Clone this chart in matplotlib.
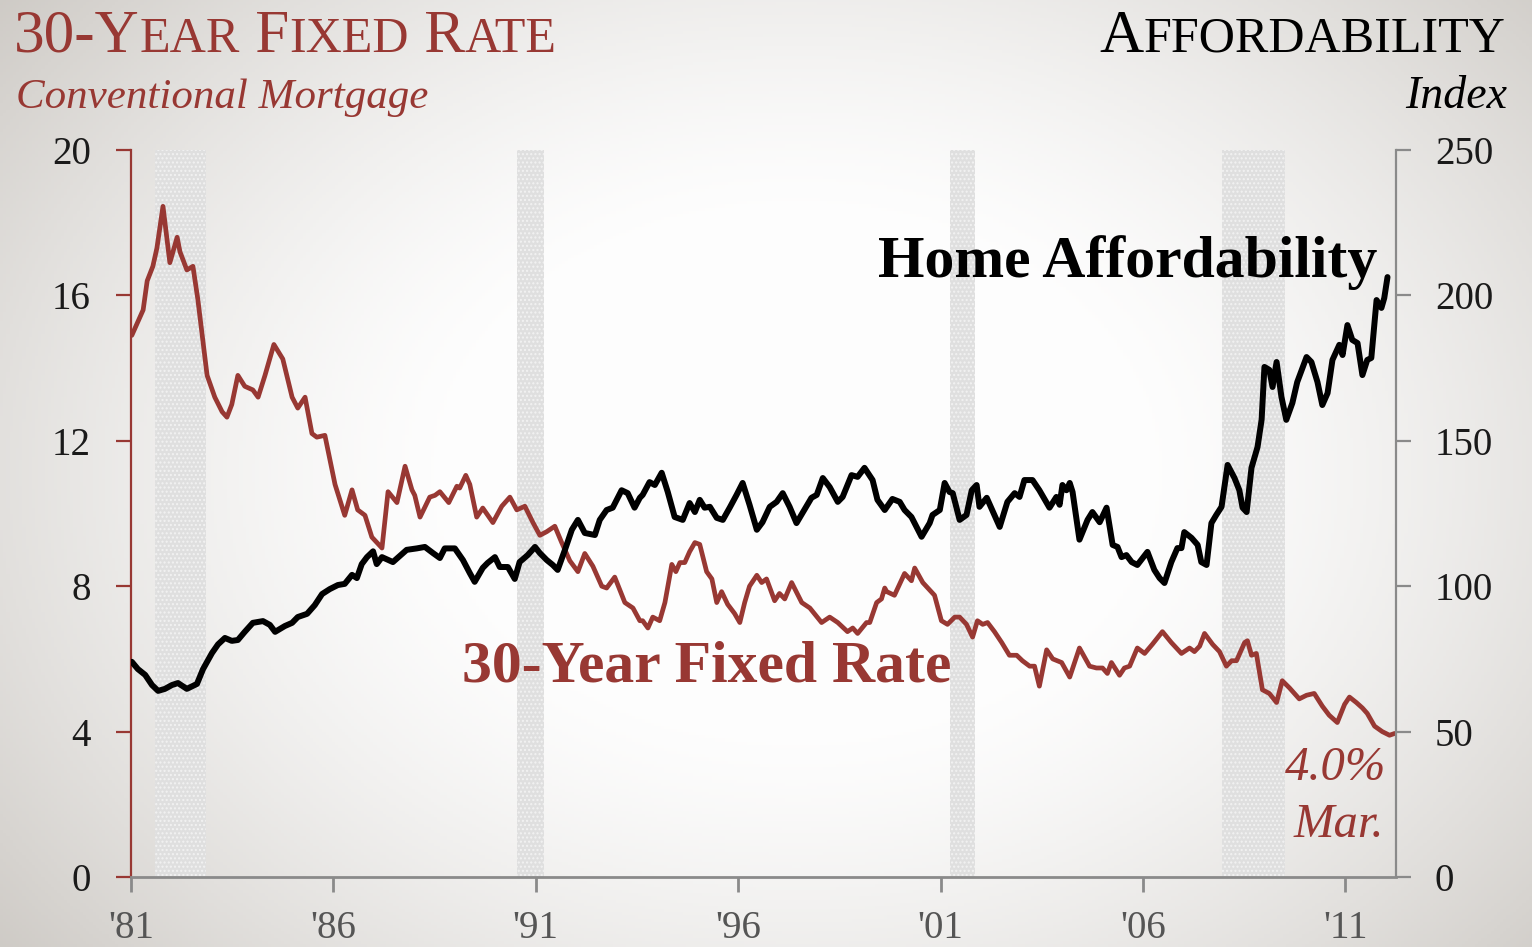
import numpy as np
import matplotlib
matplotlib.use("Agg")
import matplotlib.pyplot as plt

# ---------------- data ----------------
rate_year = [1981.02, 1981.30, 1981.40, 1981.54, 1981.64, 1981.79, 1981.96, 1982.14, 1982.21, 1982.38,
             1982.53, 1982.65, 1982.88, 1983.07, 1983.25, 1983.37, 1983.49, 1983.64, 1983.81, 1984.01,
             1984.14, 1984.31, 1984.53, 1984.75, 1984.98, 1985.12, 1985.30, 1985.47, 1985.59, 1985.79,
             1986.04, 1986.28, 1986.46, 1986.60, 1986.78, 1986.95, 1987.20, 1987.35, 1987.57, 1987.77,
             1987.94, 1988.01, 1988.14, 1988.38, 1988.51, 1988.63, 1988.85, 1989.05, 1989.12, 1989.27,
             1989.37, 1989.54, 1989.69, 1989.94, 1990.16, 1990.36, 1990.53, 1990.73, 1990.93, 1991.10,
             1991.27, 1991.47, 1991.64, 1991.84, 1992.04, 1992.21, 1992.41, 1992.63, 1992.75, 1992.95,
             1993.20, 1993.40, 1993.57, 1993.64, 1993.77, 1993.89, 1994.06, 1994.19, 1994.36, 1994.46,
             1994.56, 1994.68, 1994.80, 1994.93, 1995.05, 1995.22, 1995.35, 1995.47, 1995.59, 1995.74,
             1995.91, 1996.04, 1996.16, 1996.28, 1996.46, 1996.58, 1996.70, 1996.90, 1997.02, 1997.15,
             1997.32, 1997.57, 1997.77, 1998.06, 1998.26, 1998.46, 1998.70, 1998.83, 1998.95, 1999.17,
             1999.25, 1999.42, 1999.54, 1999.62, 1999.67, 1999.86, 2000.11, 2000.28, 2000.36, 2000.56,
             2000.85, 2001.02, 2001.17, 2001.35, 2001.47, 2001.64, 2001.79, 2001.91, 2002.04, 2002.16,
             2002.33, 2002.51, 2002.70, 2002.88, 2003.02, 2003.20, 2003.32, 2003.44, 2003.62, 2003.77,
             2003.99, 2004.19, 2004.43, 2004.68, 2004.85, 2005.00, 2005.12, 2005.22, 2005.42, 2005.54,
             2005.67, 2005.86, 2006.04, 2006.23, 2006.48, 2006.70, 2006.95, 2007.15, 2007.27, 2007.40,
             2007.52, 2007.72, 2007.89, 2008.06, 2008.19, 2008.31, 2008.51, 2008.58, 2008.68, 2008.80,
             2008.95, 2009.12, 2009.30, 2009.44, 2009.62, 2009.86, 2010.04, 2010.23, 2010.43, 2010.60,
             2010.80, 2010.98, 2011.10, 2011.27, 2011.42, 2011.54, 2011.72, 2011.91, 2012.09, 2012.22]
rate_value = [14.9, 15.6, 16.4, 16.8, 17.3, 18.45, 16.9, 17.6, 17.2, 16.7,
              16.8, 15.9, 13.8, 13.2, 12.8, 12.65, 13.0, 13.8, 13.5, 13.4,
              13.2, 13.8, 14.65, 14.25, 13.2, 12.9, 13.2, 12.2, 12.1, 12.15,
              10.8, 9.95, 10.65, 10.1, 9.95, 9.35, 9.05, 10.6, 10.3, 11.3,
              10.65, 10.5, 9.9, 10.45, 10.5, 10.6, 10.3, 10.75, 10.7, 11.05,
              10.8, 9.9, 10.15, 9.75, 10.2, 10.45, 10.1, 10.2, 9.75, 9.4,
              9.5, 9.65, 9.2, 8.7, 8.4, 8.9, 8.55, 8.0, 7.95, 8.25,
              7.55, 7.4, 7.05, 7.05, 6.85, 7.15, 7.05, 7.55, 8.6, 8.4,
              8.65, 8.65, 8.95, 9.2, 9.15, 8.4, 8.2, 7.55, 7.85, 7.5,
              7.25, 7.0, 7.55, 8.0, 8.3, 8.1, 8.2, 7.6, 7.8, 7.65,
              8.1, 7.55, 7.4, 7.0, 7.15, 7.0, 6.75, 6.85, 6.7, 7.0,
              7.0, 7.55, 7.65, 7.95, 7.85, 7.75, 8.35, 8.15, 8.5, 8.1,
              7.75, 7.05, 6.95, 7.15, 7.15, 6.95, 6.6, 7.05, 6.95, 7.0,
              6.75, 6.45, 6.1, 6.1, 5.95, 5.8, 5.8, 5.25, 6.25, 6.0,
              5.9, 5.5, 6.3, 5.8, 5.75, 5.75, 5.6, 5.9, 5.55, 5.75,
              5.8, 6.3, 6.15, 6.4, 6.75, 6.45, 6.15, 6.3, 6.2, 6.35,
              6.7, 6.4, 6.2, 5.8, 5.95, 5.95, 6.45, 6.5, 6.1, 6.15,
              5.15, 5.05, 4.8, 5.4, 5.2, 4.9, 5.0, 5.05, 4.7, 4.45,
              4.25, 4.75, 4.95, 4.8, 4.65, 4.5, 4.15, 4.0, 3.9, 3.95]

afford_year = [1981.02, 1981.17, 1981.35, 1981.52, 1981.67, 1981.84, 1982.01, 1982.16, 1982.38, 1982.63,
               1982.78, 1983.00, 1983.15, 1983.32, 1983.49, 1983.64, 1983.81, 1984.01, 1984.26, 1984.43,
               1984.56, 1984.80, 1984.98, 1985.12, 1985.35, 1985.54, 1985.72, 1985.91, 1986.11, 1986.28,
               1986.46, 1986.58, 1986.70, 1986.83, 1986.98, 1987.07, 1987.20, 1987.47, 1987.81, 1988.06,
               1988.26, 1988.46, 1988.63, 1988.75, 1989.00, 1989.20, 1989.37, 1989.49, 1989.69, 1989.81,
               1989.99, 1990.11, 1990.31, 1990.48, 1990.60, 1990.80, 1990.98, 1991.10, 1991.27, 1991.42,
               1991.54, 1991.72, 1991.89, 1992.04, 1992.21, 1992.46, 1992.58, 1992.75, 1992.90, 1993.12,
               1993.27, 1993.44, 1993.57, 1993.64, 1993.81, 1993.94, 1994.11, 1994.26, 1994.43, 1994.63,
               1994.80, 1994.93, 1995.05, 1995.17, 1995.30, 1995.47, 1995.62, 1995.79, 1995.96, 1996.11,
               1996.28, 1996.46, 1996.60, 1996.78, 1996.95, 1997.10, 1997.27, 1997.44, 1997.59, 1997.81,
               1997.94, 1998.09, 1998.26, 1998.46, 1998.58, 1998.80, 1998.95, 1999.12, 1999.32, 1999.44,
               1999.62, 1999.81, 1999.99, 2000.11, 2000.28, 2000.53, 2000.73, 2000.80, 2000.98, 2001.10,
               2001.22, 2001.30, 2001.47, 2001.64, 2001.77, 2001.89, 2001.96, 2002.14, 2002.33, 2002.46,
               2002.65, 2002.83, 2002.95, 2003.07, 2003.27, 2003.44, 2003.69, 2003.86, 2003.94, 2004.01,
               2004.11, 2004.19, 2004.26, 2004.43, 2004.63, 2004.75, 2004.93, 2005.10, 2005.25, 2005.37,
               2005.47, 2005.59, 2005.72, 2005.86, 2006.11, 2006.28, 2006.41, 2006.53, 2006.70, 2006.85,
               2006.95, 2007.02, 2007.20, 2007.35, 2007.44, 2007.57, 2007.69, 2007.81, 2007.94, 2008.09,
               2008.26, 2008.38, 2008.46, 2008.56, 2008.68, 2008.83, 2008.93, 2009.00, 2009.12, 2009.20,
               2009.30, 2009.42, 2009.54, 2009.69, 2009.81, 2010.04, 2010.16, 2010.31, 2010.43, 2010.56,
               2010.68, 2010.85, 2010.93, 2011.05, 2011.17, 2011.30, 2011.42, 2011.54, 2011.64, 2011.77,
               2011.89, 2011.96, 2012.04]
afford_value = [74, 71.5, 69.5, 66, 64, 64.7, 66, 66.7, 64.7, 66.4,
                71.5, 77, 80, 82.2, 81.2, 81.5, 84.3, 87.4, 88, 86.7,
                84.3, 86.3, 87.4, 89.4, 90.5, 93.5, 97.3, 99, 100.4, 100.8,
                103.9, 102.8, 107.6, 110, 112, 107.6, 110, 108.3, 112.5, 113,
                113.5, 111.4, 109.7, 113, 113, 109, 104.5, 101.5, 106.3, 108,
                110, 106.6, 106.6, 102.5, 108.3, 110.7, 113.5, 111.4, 109, 107.3,
                105.6, 112.5, 119.4, 122.8, 118.3, 117.6, 122.8, 126.2, 127, 133,
                132, 127, 130.4, 131.4, 135.8, 134.8, 139, 132.4, 123.8, 122.8,
                128.6, 125.5, 129.7, 127, 127.3, 123.5, 122.8, 127, 131.4, 135.5,
                128, 119.4, 122, 127.3, 129, 132, 127.3, 121.7, 125.2, 130.4,
                131.4, 137.2, 134.1, 129, 130.7, 138.2, 137.6, 140.7, 136.5, 129.7,
                126.2, 130, 129, 126.2, 123.8, 117, 121.7, 124.5, 126.2, 135.5,
                132.4, 132, 122.8, 124.5, 133, 134.8, 127.3, 130.4, 124.5, 120.4,
                129, 132, 130.7, 136.5, 136.5, 133, 127, 130.7, 128, 134.8,
                133, 135.5, 132.4, 116, 122.8, 125.5, 122, 127, 114.2, 113.5,
                110, 110.7, 108.3, 107.3, 111.8, 105.6, 102.8, 101.1, 108.3, 113.1,
                113.1, 118.6, 116.6, 114.2, 108.3, 107.3, 121.7, 124.5, 127.3, 141.7,
                137.2, 133, 127, 125.5, 140.7, 147.9, 157.2, 175.4, 174.4, 168.5,
                177.1, 165.1, 157.2, 163, 170.2, 178.8, 177.1, 170.2, 162.3, 166.4,
                177.8, 183, 179.5, 189.8, 184.7, 183.6, 172.6, 177.8, 178.5, 198.4,
                195.7, 199.1, 206.3]

recessions = [(1981.6, 1982.85), (1990.53, 1991.2), (2001.22, 2001.84), (2007.96, 2009.52)]
x_ticks = [1981, 1986, 1991, 1996, 2001, 2006, 2011]
x_labels = ["'81", "'86", "'91", "'96", "'01", "'06", "'11"]
left_ticks = [0, 4, 8, 12, 16, 20]
right_ticks = [0, 50, 100, 150, 200, 250]

# ---------------- style ----------------
RED = "#983833"
GRAY = "#8a8a8a"
SERIF = ["Liberation Serif", "DejaVu Serif"]
plt.rcParams["font.family"] = SERIF
plt.rcParams["hatch.linewidth"] = 1.0

W, H = 1532, 947
fig = plt.figure(figsize=(W / 100, H / 100), dpi=100)

# background vignette
bg = fig.add_axes([0, 0, 1, 1], zorder=-10)
yy, xx = np.mgrid[0:1:300j, 0:1:480j]
r = np.sqrt(((xx - 0.52) / 0.62) ** 2 + ((yy - 0.5) / 0.75) ** 2)
t = np.clip((r - 0.35) / 0.75, 0, 1) ** 1.4
c0 = np.array([0.995, 0.995, 0.995])
c1 = np.array([0.80, 0.785, 0.765])
img = c0[None, None, :] * (1 - t[..., None]) + c1[None, None, :] * t[..., None]
bg.imshow(img, aspect="auto", extent=[0, 1, 0, 1], origin="lower")
bg.axis("off")

ax = fig.add_axes([131 / W, 1 - 877 / H, (1396 - 131) / W, (877 - 150) / H])
ax.set_facecolor("none")
ax2 = ax.twinx()

for a, b in recessions:
    ax.axvspan(a, b, facecolor="#dfdfdf", edgecolor="#f2f2f2", hatch="....", linewidth=0, zorder=0)

ax2.plot(afford_year, afford_value, color="black", lw=4.3, solid_joinstyle="round",
         solid_capstyle="round", zorder=3)
ax.plot(rate_year, rate_value, color=RED, lw=3.4, solid_joinstyle="round",
        solid_capstyle="round", zorder=3)

ax.set_xlim(1981, 2012.25)
ax.set_ylim(0, 20)
ax2.set_ylim(0, 250)
ax.set_xticks(x_ticks)
ax.set_xticklabels(x_labels)
ax.set_yticks(left_ticks)
ax2.set_yticks(right_ticks)

for sp in ["top"]:
    ax.spines[sp].set_visible(False)
    ax2.spines[sp].set_visible(False)
ax2.spines["left"].set_visible(False)
ax2.spines["bottom"].set_visible(False)
ax.spines["right"].set_visible(False)
ax.spines["left"].set_color(RED)
ax.spines["left"].set_linewidth(1.6)
ax.spines["bottom"].set_color(GRAY)
ax.spines["bottom"].set_linewidth(2.0)
ax2.spines["right"].set_color(GRAY)
ax2.spines["right"].set_linewidth(1.6)

ax.tick_params(axis="y", direction="out", length=11, width=1.6, color=RED,
               labelsize=28, labelcolor="#1a1a1a", pad=18)
ax.tick_params(axis="x", direction="out", length=11, width=2.0, color=GRAY,
               labelsize=28, labelcolor="#555555", pad=13)
ax2.tick_params(axis="y", direction="out", length=11, width=1.6, color=GRAY,
                labelsize=28, labelcolor="#1a1a1a", pad=17)

# ---------------- texts ----------------
fig.canvas.draw()
renderer = fig.canvas.get_renderer()


def smallcaps(px, py, text, size, color, ha="left", ratio=0.8):
    runs = []
    for ch in text:
        small = ch.islower()
        c = ch.upper()
        if runs and runs[-1][1] == small:
            runs[-1][0] += c
        else:
            runs.append([c, small])
    objs = []
    widths = []
    for s, small in runs:
        o = fig.text(0, 0, s, fontsize=size * (ratio if small else 1.0), color=color,
                     va="baseline", ha="left", family=SERIF)
        w = o.get_window_extent(renderer).width
        objs.append(o)
        widths.append(w)
    total = sum(widths)
    x = px if ha == "left" else px - total
    for o, w in zip(objs, widths):
        o.set_position((x / W, 1 - py / H))
        x += w


smallcaps(14, 52, "30-Year Fixed Rate", 44, RED, ratio=0.82)
fig.text(16 / W, 1 - 108 / H, "Conventional Mortgage", fontsize=31, style="italic",
         color=RED, va="baseline", ha="left")
smallcaps(1505, 52, "Affordability", 44, "black", ha="right", ratio=0.82)
fig.text(1507 / W, 1 - 108 / H, "Index", fontsize=33, style="italic",
         color="black", va="baseline", ha="right")

fig.text(878 / W, 1 - 277 / H, "Home Affordability", fontsize=43, fontweight="bold",
         color="black", va="baseline", ha="left")
fig.text(462 / W, 1 - 681 / H, "30-Year Fixed Rate", fontsize=43, fontweight="bold",
         color=RED, va="baseline", ha="left")
fig.text(1386 / W, 1 - 780 / H, "4.0%", fontsize=35, style="italic",
         color=RED, va="baseline", ha="right")
fig.text(1384 / W, 1 - 837 / H, "Mar.", fontsize=35, style="italic",
         color=RED, va="baseline", ha="right")

fig.savefig("out.png", dpi=100)
